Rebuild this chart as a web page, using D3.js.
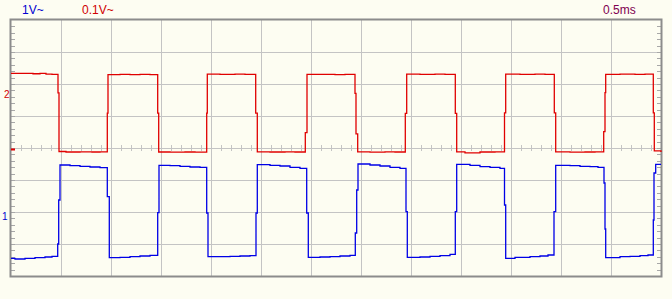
<!DOCTYPE html>
<html>
<head>
<meta charset="utf-8">
<script src="https://cdn.jsdelivr.net/npm/d3@7"></script>
<style>
  body { margin: 0; background: #fdfdf2; }
  svg { display: block; }
  text { font-family: "Liberation Sans", Arial, sans-serif; }
</style>
</head>
<body>
<div id="scope"></div>
<script>
// channel 1 (blue, 1V/div): [time ms, volts]
var ch1Trace = [
  [0.000, -1.447], [0.040, -1.469], [0.140, -1.447], [0.240, -1.428], [0.340, -1.406], [0.410, -1.384],
  [0.467, -1.000], [0.477, 0.375], [0.490, 1.469], [0.590, 1.447], [0.690, 1.428], [0.790, 1.406], [0.890, 1.384],
  [0.963, 0.478], [0.983, -1.428], [1.090, -1.416], [1.190, -1.397], [1.290, -1.375], [1.390, -1.353],
  [1.467, -0.022], [1.480, 1.459], [1.590, 1.447], [1.690, 1.428], [1.790, 1.406], [1.890, 1.397],
  [1.957, -0.031], [1.970, -1.397], [2.090, -1.397], [2.190, -1.384], [2.290, -1.375], [2.390, -1.366],
  [2.450, -0.031], [2.463, 1.478], [2.590, 1.459], [2.690, 1.438], [2.790, 1.397], [2.890, 1.366],
  [2.957, -0.031], [2.973, -1.416], [3.090, -1.406], [3.190, -1.397], [3.290, -1.375], [3.390, -1.353],
  [3.443, -0.656], [3.457, 0.688], [3.470, 1.500], [3.590, 1.469], [3.690, 1.438], [3.790, 1.397], [3.890, 1.366],
  [3.950, 0.009], [3.963, -1.416], [4.090, -1.406], [4.190, -1.384], [4.290, -1.366], [4.390, -1.322],
  [4.443, 0.009], [4.457, 1.491], [4.590, 1.459], [4.690, 1.416], [4.790, 1.397], [4.890, 1.366],
  [4.935, 0.219], [4.947, -1.447], [5.040, -1.416], [5.190, -1.397], [5.290, -1.375], [5.370, -1.344],
  [5.430, 0.009], [5.447, 1.459], [5.590, 1.447], [5.690, 1.428], [5.790, 1.416], [5.870, 1.397],
  [5.930, 0.906], [5.940, -0.531], [5.947, -1.428], [6.090, -1.397], [6.190, -1.384], [6.290, -1.366], [6.370, -1.344],
  [6.423, -0.250], [6.430, 1.219], [6.447, 1.491], [6.500, 1.491]
];

// channel 2 (red, 0.1V/div): [time ms, volts]
var ch2Trace = [
  [0.000, 0.233], [0.220, 0.232], [0.290, 0.233], [0.350, 0.231], [0.410, 0.230],
  [0.470, 0.172], [0.480, -0.011], [0.550, -0.0125], [0.690, -0.012], [0.810, -0.0125], [0.890, -0.012],
  [0.963, 0.109], [0.970, 0.229], [1.090, 0.230], [1.190, 0.229], [1.290, 0.230], [1.390, 0.229],
  [1.467, 0.109], [1.477, -0.0125], [1.590, -0.013], [1.740, -0.0125], [1.840, -0.013],
  [1.957, 0.109], [1.963, 0.231], [2.090, 0.230], [2.240, 0.231], [2.340, 0.230],
  [2.447, 0.109], [2.463, -0.012], [2.590, -0.0125], [2.740, -0.012], [2.840, -0.0125],
  [2.943, 0.048], [2.960, 0.230], [3.090, 0.230], [3.240, 0.229], [3.340, 0.230],
  [3.440, 0.171], [3.450, 0.044], [3.467, -0.012], [3.590, -0.013], [3.740, -0.012], [3.840, -0.0125],
  [3.943, 0.108], [3.957, 0.231], [4.090, 0.230], [4.240, 0.231], [4.340, 0.230],
  [4.443, 0.108], [4.457, -0.012], [4.540, -0.015], [4.690, -0.0125], [4.840, -0.012],
  [4.935, 0.110], [4.947, 0.231], [5.090, 0.230], [5.240, 0.231], [5.340, 0.230],
  [5.433, 0.110], [5.447, -0.012], [5.590, -0.013], [5.740, -0.0125], [5.840, -0.012],
  [5.927, 0.051], [5.940, 0.173], [5.947, 0.230], [6.090, 0.231], [6.240, 0.230], [6.340, 0.231],
  [6.423, 0.110], [6.433, -0.009], [6.500, -0.0125]
];

// header labels
var scaleLabels = ["1V~", "0.1V~", "0.5ms"];
var channelLabels = ["1", "2"];

var width = 672, height = 299;
var plot = {left: 11, right: 661, top: 20, bottom: 276};

var svg = d3.select("#scope").append("svg")
  .attr("width", width)
  .attr("height", height);

svg.append("rect").attr("width", width).attr("height", height).attr("fill", "#fdfdf2");

// 13 divisions of 0.5ms, 8 vertical divisions
var x = d3.scaleLinear().domain([0, 6.5]).range([plot.left, plot.right]);
var yBlue = d3.scaleLinear().domain([-2, 6]).range([plot.bottom, plot.top]);
var yRed = d3.scaleLinear().domain([-0.4, 0.4]).range([plot.bottom, plot.top]);

var gridColor = "#c4c4c4";

// vertical grid
svg.append("g")
  .attr("transform", "translate(0," + plot.bottom + ")")
  .call(d3.axisBottom(x).tickValues(d3.range(0.5, 6.5, 0.5)).tickSize(-(plot.bottom - plot.top)).tickFormat(""))
  .call(g => g.select(".domain").remove())
  .call(g => g.selectAll("line").attr("stroke", gridColor).attr("shape-rendering", "crispEdges"));

// horizontal grid
svg.append("g")
  .attr("transform", "translate(" + plot.left + ",0)")
  .call(d3.axisLeft(yRed).tickValues(d3.range(-0.3, 0.35, 0.1)).tickSize(-(plot.right - plot.left)).tickFormat(""))
  .call(g => g.select(".domain").remove())
  .call(g => g.selectAll("line").attr("stroke", gridColor).attr("shape-rendering", "crispEdges"));

// minor ticks on the centre line
var minorT = d3.range(0.1, 6.45, 0.1);
[d3.axisTop, d3.axisBottom].forEach(function(ax) {
  svg.append("g")
    .attr("transform", "translate(0," + yRed(0) + ")")
    .call(ax(x).tickValues(minorT).tickSize(3).tickFormat(""))
    .call(g => g.select(".domain").remove())
    .call(g => g.selectAll("line").attr("stroke", gridColor).attr("shape-rendering", "crispEdges"));
});

// minor ticks on the left and right edges
var minorV = d3.range(-0.38, 0.4, 0.02);
svg.append("g")
  .attr("transform", "translate(" + plot.left + ",0)")
  .call(d3.axisRight(yRed).tickValues(minorV).tickSize(4).tickFormat(""))
  .call(g => g.select(".domain").remove())
  .call(g => g.selectAll("line").attr("stroke", "#a8a8a8").attr("shape-rendering", "crispEdges"));
svg.append("g")
  .attr("transform", "translate(" + plot.right + ",0)")
  .call(d3.axisLeft(yRed).tickValues(minorV).tickSize(4).tickFormat(""))
  .call(g => g.select(".domain").remove())
  .call(g => g.selectAll("line").attr("stroke", "#a8a8a8").attr("shape-rendering", "crispEdges"));

// frame
svg.append("rect")
  .attr("x", plot.left - 0.5).attr("y", plot.top - 0.5)
  .attr("width", plot.right - plot.left + 1).attr("height", plot.bottom - plot.top + 1)
  .attr("fill", "none").attr("stroke", "#8c8c8c").attr("stroke-width", 2);

// traces
var lineBlue = d3.line().x(d => x(d[0])).y(d => yBlue(d[1])).curve(d3.curveStepAfter);
var lineRed = d3.line().x(d => x(d[0])).y(d => yRed(d[1])).curve(d3.curveStepAfter);

svg.append("path").datum(ch1Trace)
  .attr("d", lineBlue).attr("fill", "none").attr("stroke", "#0000e6").attr("stroke-width", 1.3);
svg.append("path").datum(ch2Trace)
  .attr("d", lineRed).attr("fill", "none").attr("stroke", "#e00000").attr("stroke-width", 1.3);

// channel 2 ground marker
svg.append("rect")
  .attr("x", plot.left).attr("y", yRed(0) + 0.5)
  .attr("width", 4).attr("height", 2).attr("fill", "#e00000");

// labels
svg.append("text").attr("x", 22).attr("y", 14).attr("font-size", 12).attr("fill", "#0000d0").text(scaleLabels[0]);
svg.append("text").attr("x", 82).attr("y", 14).attr("font-size", 12).attr("fill", "#d00000").text(scaleLabels[1]);
svg.append("text").attr("x", 603).attr("y", 14).attr("font-size", 12).attr("fill", "#800050").text(scaleLabels[2]);
svg.append("text").attr("x", 2).attr("y", 220).attr("font-size", 10).attr("fill", "#0000d0").text(channelLabels[0]);
svg.append("text").attr("x", 4).attr("y", 98).attr("font-size", 10).attr("fill", "#d00000").text(channelLabels[1]);
</script>
</body>
</html>
